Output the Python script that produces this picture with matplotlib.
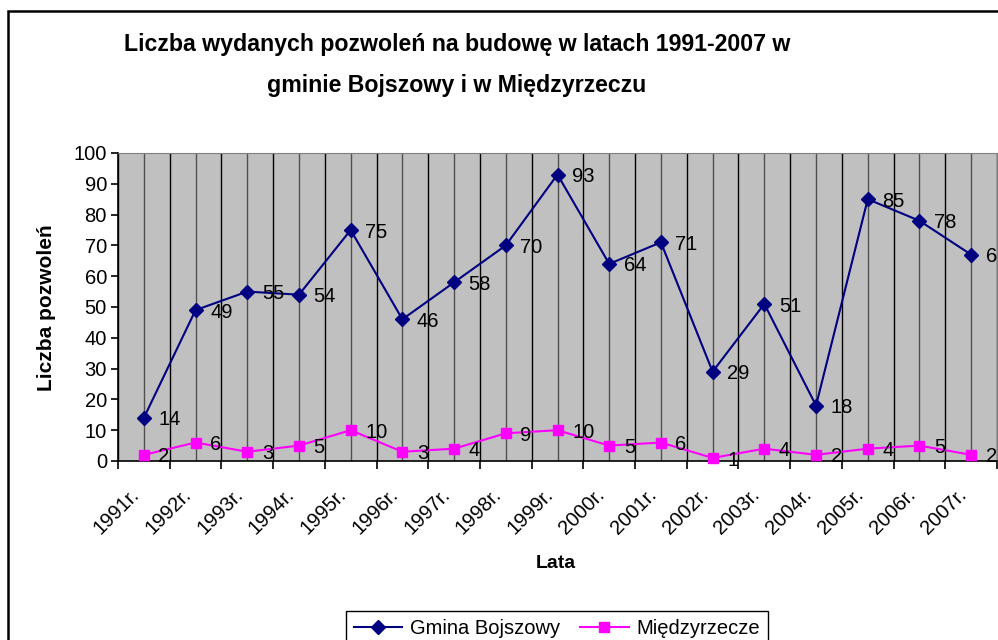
import numpy as np
import matplotlib.pyplot as plt
import matplotlib.transforms as mtransforms
from matplotlib.patches import Rectangle

plt.rcParams['font.family'] = ['Liberation Sans', 'DejaVu Sans']

# dane z wykresu
lata = ['1991r.', '1992r.', '1993r.', '1994r.', '1995r.', '1996r.', '1997r.', '1998r.',
        '1999r.', '2000r.', '2001r.', '2002r.', '2003r.', '2004r.', '2005r.', '2006r.', '2007r.']
bojszowy = [14, 49, 55, 54, 75, 46, 58, 70, 93, 64, 71, 29, 51, 18, 85, 78, 67]
miedzyrzecze = [2, 6, 3, 5, 10, 3, 4, 9, 10, 5, 6, 1, 4, 2, 4, 5, 2]

FS = 14.5

fig = plt.figure(figsize=(9.98, 6.4), dpi=100)
ax = fig.add_axes([118 / 998, 1 - 461 / 640, 879 / 998, 308 / 640])
ax.set_facecolor('#C0C0C0')

# ramka wykresu (Excel)
fig.patches.append(Rectangle((8 / 998, -0.1), 1.2, 1 - 11 / 640 + 0.1, transform=fig.transFigure,
                             fill=False, edgecolor='black', linewidth=1.8))

x = np.arange(len(lata))
ax.plot(x, bojszowy, color='#000080', marker='D', markersize=7.5, linewidth=1.5,
        label='Gmina Bojszowy', zorder=3, clip_on=False)
ax.plot(x, miedzyrzecze, color='#FF00FF', marker='s', markersize=7.5, linewidth=1.5,
        label='Międzyrzecze', zorder=3, clip_on=False)

for xi, v in zip(x, bojszowy):
    ax.annotate(str(v), (xi, v), xytext=(10.5, -1.5), textcoords='offset points',
                ha='left', va='center', fontsize=FS, annotation_clip=False)
for xi, v in zip(x, miedzyrzecze):
    ax.annotate(str(v), (xi, v), xytext=(10.5, -1.5), textcoords='offset points',
                ha='left', va='center', fontsize=FS, annotation_clip=False)

ax.set_xlim(-0.5, len(lata) - 0.5)
ax.set_ylim(0, 100)
ax.set_yticks(np.arange(0, 101, 10))
ax.tick_params(axis='y', labelsize=FS, length=5, width=1.2, direction='out', pad=3)

# podzialki X na granicach kategorii, etykiety w srodku
ax.set_xticks(np.arange(-0.5, len(lata), 1.0))
ax.set_xticklabels([])
ax.set_xticks(x, minor=True)
ax.set_xticklabels(lata, minor=True, rotation=45, ha='right', va='top',
                   rotation_mode='anchor', fontsize=FS)
ax.tick_params(axis='x', which='major', length=6, width=1.2)
ax.tick_params(axis='x', which='minor', length=0, pad=15)

# przesuniecie etykiet w lewo, jak w Excelu
shift = mtransforms.ScaledTranslation(-14 / 100, -3 / 100, fig.dpi_scale_trans)
for lab in ax.get_xticklabels(minor=True):
    lab.set_transform(lab.get_transform() + shift)

ax.grid(True, axis='x', which='major', color='black', linewidth=1)
ax.grid(True, axis='x', which='minor', color='#505050', linewidth=1)
ax.set_axisbelow(True)

ax.spines['left'].set_color('black')
ax.spines['bottom'].set_color('black')
ax.spines['left'].set_linewidth(1.2)
ax.spines['bottom'].set_linewidth(1.2)
ax.spines['top'].set_color('#808080')
ax.spines['right'].set_color('#808080')

fig.text(457 / 998, 1 - 65 / 640,
         'Liczba wydanych pozwoleń na budowę w latach 1991-2007 w\ngminie Bojszowy i w Międzyrzeczu',
         ha='center', va='center', fontsize=16.7, fontweight='bold', linespacing=2.0)
fig.text(47 / 998, 1 - 308 / 640, 'Liczba pozwoleń', rotation=90, ha='center', va='center',
         fontsize=15, fontweight='bold')
fig.text(556 / 998, 1 - 563 / 640, 'Lata', ha='center', va='center',
         fontsize=14, fontweight='bold')

leg = fig.legend(loc='upper center', bbox_to_anchor=(557 / 998, 1 - 601 / 640), ncol=2,
                 fontsize=FS, frameon=True, fancybox=False, edgecolor='black',
                 framealpha=1, handlelength=2.4, handletextpad=0.4, columnspacing=1.0,
                 borderpad=0.4)
leg.get_frame().set_linewidth(1.0)

fig.savefig('out.png', dpi=100)
